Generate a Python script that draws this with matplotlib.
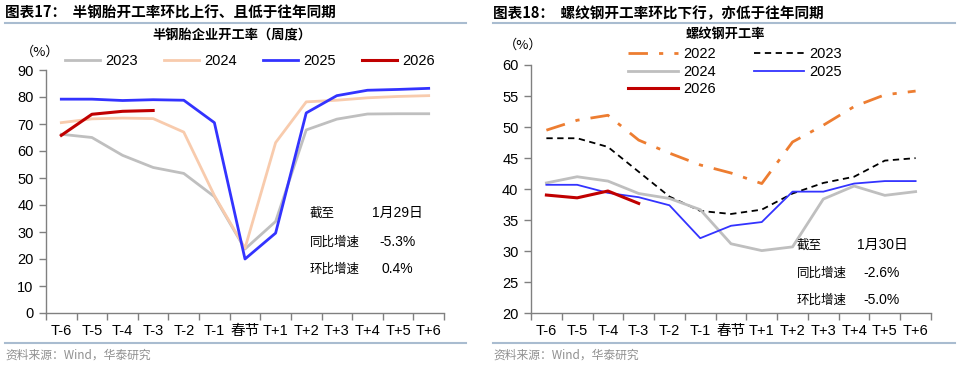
import matplotlib.pyplot as plt
from matplotlib.lines import Line2D

plt.rcParams['font.family'] = ['Liberation Sans', 'Noto Sans CJK SC', 'DejaVu Sans']

categories = ["T-6", "T-5", "T-4", "T-3", "T-2", "T-1", "春节",
              "T+1", "T+2", "T+3", "T+4", "T+5", "T+6"]

# 半钢胎企业开工率（周度）
tire_2023 = [66.2, 65.0, 58.4, 53.9, 51.7, 43.1, 23.7, 33.9, 67.8, 71.8, 73.7, 73.8, 73.8]
tire_2024 = [70.5, 71.9, 72.2, 72.0, 67.0, 43.5, 24.0, 63.1, 78.2, 78.8, 79.7, 80.2, 80.5]
tire_2025 = [79.2, 79.2, 78.7, 79.0, 78.8, 70.5, 20.0, 29.6, 74.1, 80.5, 82.5, 82.8, 83.2]
tire_2026 = [65.8, 73.6, 74.7, 75.0]

# 螺纹钢开工率
rebar_2022 = [49.5, 51.1, 51.9, 47.9, 45.8, 43.9, 42.6, 40.9, 47.6, 50.3, 53.3, 55.2, 55.8]
rebar_2023 = [48.2, 48.2, 46.8, 42.8, 38.8, 36.5, 36.0, 36.7, 39.3, 41.0, 42.0, 44.6, 45.0]
rebar_2024 = [41.0, 42.0, 41.3, 39.3, 38.5, 36.7, 31.2, 30.1, 30.7, 38.4, 40.5, 39.0, 39.6]
rebar_2025 = [40.7, 40.7, 39.4, 38.7, 37.4, 32.1, 34.1, 34.7, 39.6, 39.6, 40.9, 41.3, 41.3]
rebar_2026 = [39.05, 38.6, 39.7, 37.7]

W, H = 969, 367
fig = plt.figure(figsize=(W / 100, H / 100), dpi=100)

CJK = ['Noto Sans CJK SC', 'DejaVu Sans']
RULE = '#A9BCD0'
AX = '#808080'


def box(x0, y0, x1, y1):
    return [x0 / W, 1 - y1 / H, (x1 - x0) / W, (y1 - y0) / H]


def style_axes(ax, ymin, ymax, step):
    x = range(len(categories))
    ax.set_xlim(-0.5, len(categories) - 0.5)
    ax.set_ylim(ymin, ymax)
    ax.set_yticks(range(ymin, ymax + 1, step))
    ax.set_xticks(list(x))
    ax.set_xticklabels(categories)
    for lab in ax.get_xticklabels():
        if lab.get_text() == "春节":
            lab.set_family(CJK)
    ax.set_xticks([i - 0.5 for i in range(len(categories) + 1)], minor=True)
    ax.tick_params(axis='x', which='major', length=0, pad=8, labelsize=10.5)
    ax.tick_params(axis='x', which='minor', length=5, color=AX, width=1)
    ax.tick_params(axis='y', length=5, color=AX, width=1, labelsize=10.5, pad=4)
    for s in ['top', 'right']:
        ax.spines[s].set_visible(False)
    for s in ['left', 'bottom']:
        ax.spines[s].set_color(AX)
        ax.spines[s].set_linewidth(1)


# ---------------- 左图 ----------------
ax1 = fig.add_axes(box(46, 70, 444, 313))
x = list(range(len(categories)))
l23, = ax1.plot(x, tire_2023, color='#BFBFBF', lw=2)
l24, = ax1.plot(x, tire_2024, color='#F8CBAD', lw=2)
l25, = ax1.plot(x, tire_2025, color='#3333FF', lw=2)
l26, = ax1.plot(x[:len(tire_2026)], tire_2026, color='#C00000', lw=2.2)
style_axes(ax1, 0, 90, 10)
ax1.legend([l23, l24, l25, l26], ["2023", "2024", "2025", "2026"], ncol=4,
           frameon=False, fontsize=10.5, handlelength=2.4, columnspacing=1.75,
           handletextpad=0.4, loc='center', bbox_to_anchor=(250 / W, 1 - 61 / H),
           bbox_transform=fig.transFigure)

fig.text(5 / W, 1 - 13 / H, "图表17：  半钢胎开工率环比上行、且低于往年同期",
         fontsize=10.5, fontweight='bold', family=CJK, va='center', ha='left')
fig.text(232 / W, 1 - 35 / H, "半钢胎企业开工率（周度）", fontsize=9.5,
         fontweight='bold', family=CJK, va='center', ha='center')
fig.text(40 / W, 1 - 52 / H, "（%）", fontsize=9.5, family=CJK, va='center', ha='center')

for label, value, yy in [("截至", "1月29日", 213), ("同比增速", "-5.3%", 242),
                         ("环比增速", "0.4%", 269)]:
    fig.text(310 / W, 1 - yy / H, label, fontsize=9, family=CJK, va='center', ha='left')
    fig.text(397 / W, 1 - yy / H, value, fontsize=10, family=['Liberation Sans'] + CJK,
             va='center', ha='center')

# ---------------- 右图 ----------------
ax2 = fig.add_axes(box(531, 65, 931, 313.3))
r22, = ax2.plot(x, rebar_2022, color='#ED7D31', lw=2, dashes=(7, 4, 1.5, 4))
r23, = ax2.plot(x, rebar_2023, color='black', lw=1.3, dashes=(3.5, 2.5))
r24, = ax2.plot(x, rebar_2024, color='#BFBFBF', lw=2)
r25, = ax2.plot(x, rebar_2025, color='#3333FF', lw=1.3)
r26, = ax2.plot(x[:len(rebar_2026)], rebar_2026, color='#C00000', lw=2.2)
style_axes(ax2, 20, 60, 5)
ax2.legend([r22, r24, r26, r23, r25], ["2022", "2024", "2026", "2023", "2025"], ncol=2,
           frameon=False, fontsize=10.5, handlelength=3.4, columnspacing=2.6,
           handletextpad=0.4, labelspacing=0.25, loc='upper left',
           bbox_to_anchor=(615 / W, 1 - 34 / H), bbox_transform=fig.transFigure)

fig.text(493 / W, 1 - 13 / H, "图表18：  螺纹钢开工率环比下行，亦低于往年同期",
         fontsize=10.5, fontweight='bold', family=CJK, va='center', ha='left')
fig.text(725 / W, 1 - 34 / H, "螺纹钢开工率", fontsize=9.5,
         fontweight='bold', family=CJK, va='center', ha='center')
fig.text(523 / W, 1 - 45 / H, "（%）", fontsize=9.5, family=CJK, va='center', ha='center')

for label, value, yy in [("截至", "1月30日", 245), ("同比增速", "-2.6%", 273),
                         ("环比增速", "-5.0%", 300)]:
    fig.text(797 / W, 1 - yy / H, label, fontsize=9, family=CJK, va='center', ha='left')
    fig.text(882 / W, 1 - yy / H, value, fontsize=10, family=['Liberation Sans'] + CJK,
             va='center', ha='center')

# 分隔线与资料来源
for x0, x1 in [(5, 466), (493, 955)]:
    fig.add_artist(Line2D([x0 / W, x1 / W], [1 - 23 / H, 1 - 23 / H], color=RULE, lw=1.5))
    fig.add_artist(Line2D([x0 / W, x1 / W], [1 - 343 / H, 1 - 343 / H], color=RULE, lw=1.5))
    fig.text(x0 / W, 1 - 355 / H, "资料来源：Wind，华泰研究", fontsize=8.5,
             color='#909090', family=CJK, va='center', ha='left')

fig.savefig("out.png", dpi=100)
